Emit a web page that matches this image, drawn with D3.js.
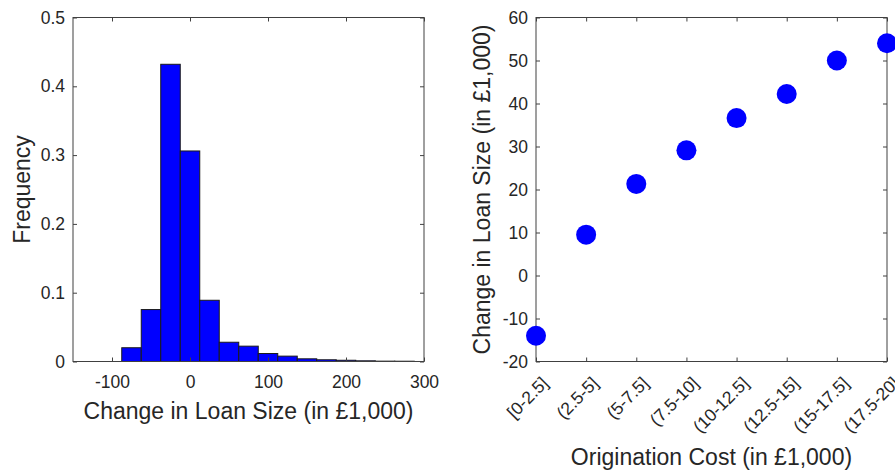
<!DOCTYPE html>
<html>
<head>
<meta charset="utf-8">
<script src="https://cdn.jsdelivr.net/npm/d3@7"></script>
<style>
  body { margin: 0; background: #fff; }
  svg { display: block; font-family: "Liberation Sans", Arial, Helvetica, sans-serif; }
  .axis text { fill: #262626; font-size: 17.5px; font-family: "Liberation Sans", Arial, Helvetica, sans-serif; }
  .axis path, .axis line { stroke: #404040; }
  .label { fill: #262626; font-size: 23px; }
</style>
</head>
<body>
<svg width="895" height="471"></svg>
<script>
// histogram: bin edges (lower bound) and relative frequency
let binStarts = [-87.5, -62.5, -37.5, -12.5, 12.5, 37.5, 62.5, 87.5, 112.5, 137.5, 162.5, 187.5, 212.5, 237.5, 262.5];
let binFreq = [0.020, 0.0755, 0.432, 0.306, 0.089, 0.028, 0.0223, 0.0116, 0.0078, 0.0039, 0.0025, 0.0018, 0.0010, 0.0005, 0.0004];
let binWidth = 25;
let histXTicks = [-100, 0, 100, 200, 300];
let histYTicks = [0, 0.1, 0.2, 0.3, 0.4, 0.5];

// scatter: origination cost buckets and mean change in loan size
let costBuckets = ["[0-2.5]", "(2.5-5]", "(5-7.5]", "(7.5-10]", "(10-12.5]", "(12.5-15]", "(15-17.5]", "(17.5-20]"];
let loanChange = [-14, 9.5, 21.3, 29.1, 36.6, 42.2, 50, 54];
let scatYTicks = [-20, -10, 0, 10, 20, 30, 40, 50, 60];

var svg = d3.select("svg");

function translate(x, y) {
    return `translate(${x},${y})`;
}

// plain hyphen for negatives, like the original
let intFmt = d => String(d);

function drawBox(g, x0, x1, y0, y1, xScale, yScale, xTicks, yTicks, xFmt, yFmt) {
    // bottom axis with labels, ticks pointing inward
    g.append("g").attr("class", "axis xaxis")
        .attr("transform", translate(0, y1))
        .call(d3.axisBottom(xScale).tickValues(xTicks).tickSize(-4).tickSizeOuter(0).tickPadding(14).tickFormat(xFmt));
    g.append("g").attr("class", "axis")
        .attr("transform", translate(0, y0))
        .call(d3.axisTop(xScale).tickValues(xTicks).tickSize(-4).tickSizeOuter(0).tickFormat(""));
    g.append("g").attr("class", "axis")
        .attr("transform", translate(x0, 0))
        .call(d3.axisLeft(yScale).tickValues(yTicks).tickSize(-4).tickSizeOuter(0).tickPadding(8).tickFormat(yFmt));
    g.append("g").attr("class", "axis")
        .attr("transform", translate(x1, 0))
        .call(d3.axisRight(yScale).tickValues(yTicks).tickSize(-4).tickSizeOuter(0).tickFormat(""));
    g.selectAll(".axis .domain").remove();
    g.append("rect")
        .attr("x", x0).attr("y", y0)
        .attr("width", x1 - x0).attr("height", y1 - y0)
        .attr("fill", "none").attr("stroke", "#404040").attr("stroke-width", 1);
}

// ---------- left: histogram ----------
let L = { x0: 73, x1: 424, y0: 17.5, y1: 361.5 };
let hx = d3.scaleLinear().domain([-150, 300]).range([L.x0, L.x1]);
let hy = d3.scaleLinear().domain([0, 0.5]).range([L.y1, L.y0]);

let left = svg.append("g");
left.selectAll("rect.bar")
    .data(binStarts.map((s, i) => ({ s: s, f: binFreq[i] })))
    .enter()
    .append("rect")
    .attr("class", "bar")
    .attr("x", d => hx(d.s))
    .attr("y", d => hy(d.f))
    .attr("width", d => hx(d.s + binWidth) - hx(d.s))
    .attr("height", d => hy(0) - hy(d.f))
    .attr("fill", "#0000ff")
    .attr("stroke", "#1a1a1a")
    .attr("stroke-width", 1);

drawBox(left, L.x0, L.x1, L.y0, L.y1, hx, hy, histXTicks, histYTicks, intFmt, d => d === 0 ? "0" : d3.format(".1f")(d));

left.append("text").attr("class", "label")
    .attr("x", (L.x0 + L.x1) / 2).attr("y", 419)
    .attr("text-anchor", "middle")
    .text("Change in Loan Size (in £1,000)");
left.append("text").attr("class", "label")
    .attr("transform", translate(30, (L.y0 + L.y1) / 2) + " rotate(-90)")
    .attr("text-anchor", "middle")
    .text("Frequency");

// ---------- right: scatter ----------
let R = { x0: 536, x1: 887, y0: 17.5, y1: 361.5 };
let sx = d3.scalePoint().domain(costBuckets).range([R.x0, R.x1]).padding(0);
let sy = d3.scaleLinear().domain([-20, 60]).range([R.y1, R.y0]);

let right = svg.append("g");
drawBox(right, R.x0, R.x1, R.y0, R.y1, sx, sy, costBuckets, scatYTicks, d => d, intFmt);

// rotate the category labels
right.select(".xaxis").selectAll(".tick text")
    .attr("y", 0).attr("dy", "0.71em")
    .attr("text-anchor", "end")
    .attr("transform", "translate(4,14) rotate(-45)");

right.selectAll("circle")
    .data(loanChange)
    .enter()
    .append("circle")
    .attr("cx", (d, i) => sx(costBuckets[i]))
    .attr("cy", d => sy(d))
    .attr("r", 10)
    .attr("fill", "#0000ff");

right.append("text").attr("class", "label")
    .attr("x", (R.x0 + R.x1) / 2).attr("y", 465)
    .attr("text-anchor", "middle")
    .text("Origination Cost (in £1,000)");
right.append("text").attr("class", "label")
    .attr("transform", translate(490, (R.y0 + R.y1) / 2) + " rotate(-90)")
    .attr("text-anchor", "middle")
    .text("Change in Loan Size (in £1,000)");
</script>
</body>
</html>
